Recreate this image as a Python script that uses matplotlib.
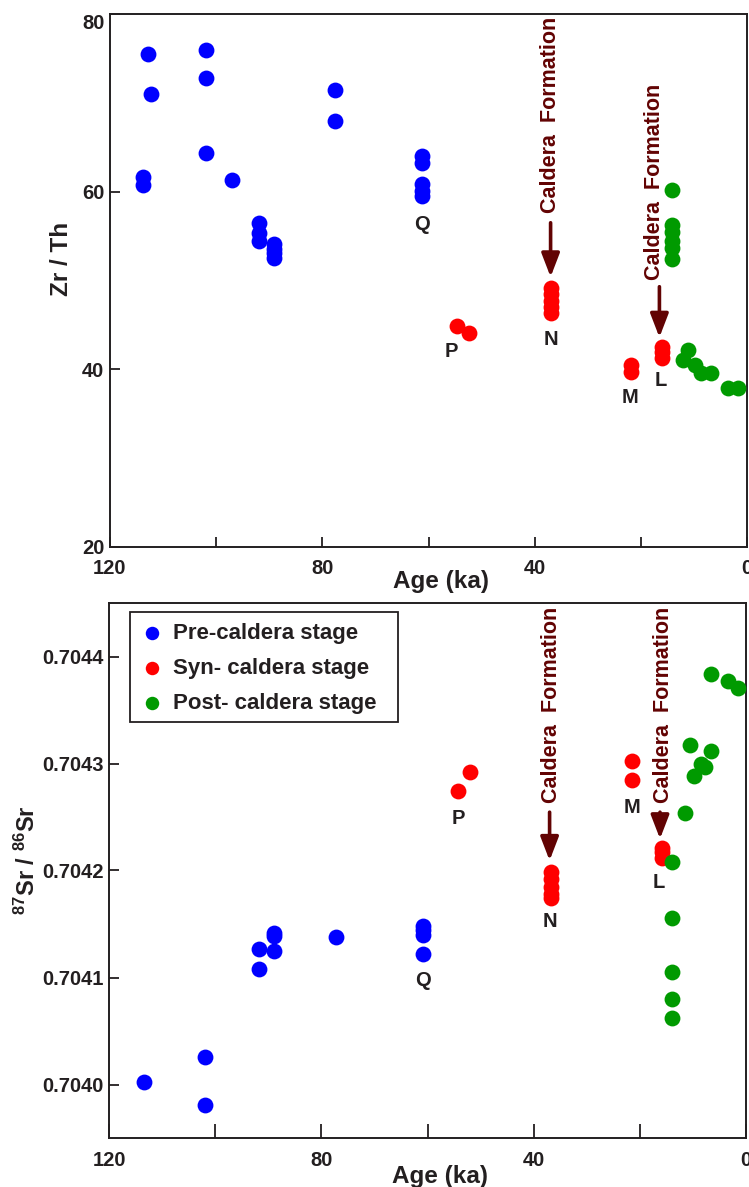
import matplotlib
matplotlib.use("Agg")
import matplotlib.pyplot as plt
from matplotlib.patches import Rectangle
from matplotlib.ticker import FixedLocator, FuncFormatter, FormatStrFormatter

plt.rcParams['font.family'] = ['Liberation Sans', 'DejaVu Sans']
plt.rcParams['font.weight'] = 'bold'
plt.rcParams['mathtext.fontset'] = 'custom'
plt.rcParams['mathtext.rm'] = 'Liberation Sans:bold'
plt.rcParams['mathtext.default'] = 'rm'

# ---- Zr/Th vs age ----
pre_age_zr = [112.9, 112.2, 113.7, 113.7, 102.0, 102.0, 102.0, 97.0, 91.9, 91.9, 91.9,
              89.1, 89.1, 89.1, 89.1, 77.6, 77.6, 61.2, 61.2, 61.2, 61.2, 61.2]
pre_zr = [75.5, 71.0, 61.7, 60.7, 75.9, 72.8, 64.4, 61.3, 56.5, 55.3, 54.5,
          54.1, 53.6, 53.1, 52.5, 71.4, 68.0, 64.0, 63.2, 60.9, 60.1, 59.5]

syn_age_zr = [54.6, 52.3, 37.0, 37.0, 37.0, 37.0, 37.0, 21.8, 21.8, 16.1, 16.1, 16.1]
syn_zr = [44.9, 44.1, 49.2, 48.5, 47.7, 47.0, 46.3, 40.5, 39.7, 42.5, 41.9, 41.3]

post_age_zr = [14.2, 14.2, 14.2, 14.2, 14.2, 14.2, 11.1, 12.0, 9.8, 8.6, 6.7, 3.6, 1.7]
post_zr = [60.2, 56.3, 55.5, 54.5, 53.7, 52.4, 42.2, 41.0, 40.5, 39.6, 39.6, 37.9, 37.9]

# ---- 87Sr/86Sr vs age ----
pre_age_sr = [113.5, 101.9, 101.9, 91.8, 91.8, 88.9, 88.9, 88.9, 77.3, 60.9, 60.9, 60.9, 60.9]
pre_sr = [0.704002, 0.704026, 0.703981, 0.704127, 0.704108, 0.704142, 0.704139, 0.704125,
          0.704138, 0.704148, 0.704144, 0.704140, 0.704122]

syn_age_sr = [54.3, 52.0, 36.8, 36.8, 36.8, 36.8, 36.8, 21.5, 21.5, 15.9, 15.9, 15.9]
syn_sr = [0.704274, 0.704292, 0.704199, 0.704192, 0.704185, 0.704178, 0.704174,
          0.704302, 0.704285, 0.704221, 0.704217, 0.704212]

post_age_sr = [6.5, 3.3, 1.5, 10.6, 6.5, 8.4, 7.8, 9.8, 11.4, 13.9, 13.9, 13.9, 13.9, 13.9]
post_sr = [0.704384, 0.704377, 0.704371, 0.704317, 0.704312, 0.704300, 0.704297, 0.704288,
           0.704254, 0.704208, 0.704156, 0.704105, 0.704080, 0.704062]

stage_labels = ["Pre-caldera stage", "Syn- caldera stage", "Post- caldera stage"]

# unit labels: (text, age, value)
units_zr = [("Q", 61.2, 56.3), ("P", 55.6, 42.0), ("N", 36.9, 43.4),
            ("M", 22.0, 36.8), ("L", 16.3, 38.7)]
units_sr = [("Q", 60.9, 0.704097), ("P", 54.1, 0.704249), ("N", 36.9, 0.704152),
            ("M", 21.5, 0.704259), ("L", 16.4, 0.704189)]

# caldera formation markers: (text age, text base, arrow age, arrow tail, arrow head)
caldera_zr = [(37.0, 57.6, 37.0, 56.5, 50.4), (17.4, 50.1, 16.5, 49.3, 43.6)]
caldera_sr = [(36.6, 0.704263, 37.0, 0.7042545, 0.7042093),
              (15.5, 0.704263, 16.2, 0.7042545, 0.7042296)]

BLUE, RED, GREEN = "#0000ff", "#ff0000", "#009a00"
DARKRED = "#620303"
INK = "#231f20"

fig = plt.figure(figsize=(7.49, 11.87), dpi=100)
ax1 = fig.add_axes([110 / 749, 1 - 547 / 1187, 637 / 749, 533 / 1187])
ax2 = fig.add_axes([109 / 749, 1 - 1138 / 1187, 637 / 749, 535 / 1187])

S = 130


def style_axes(ax, xlen):
    for sp in ax.spines.values():
        sp.set_color(INK)
        sp.set_linewidth(1.4)
    ax.tick_params(direction="in", width=1.3, color=INK,
                   labelsize=14.5, labelcolor=INK)
    ax.tick_params(axis="y", length=7, pad=4)
    ax.tick_params(axis="x", length=xlen, pad=9)
    ax.set_xlim(120, 0)
    ax.xaxis.set_major_locator(FixedLocator([120, 100, 80, 60, 40, 20, 0]))
    ax.xaxis.set_major_formatter(
        FuncFormatter(lambda v, p: f"{v:.0f}" if round(v) % 40 == 0 else ""))


def caldera(ax, tx, tb, axx, tail, head):
    ax.text(tx, tb, "Caldera  Formation", rotation=90, ha="center", va="bottom",
            color=DARKRED, fontsize=15.5, fontweight="bold")
    ax.annotate("", xy=(axx, head), xytext=(axx, tail),
                arrowprops=dict(arrowstyle="-|>,head_length=0.65,head_width=0.25",
                                color=DARKRED, lw=2.6, mutation_scale=22,
                                shrinkA=0, shrinkB=0))


# top panel
ax1.scatter(pre_age_zr, pre_zr, s=S, c=BLUE, linewidths=0, zorder=3)
ax1.scatter(syn_age_zr, syn_zr, s=S, c=RED, linewidths=0, zorder=3)
ax1.scatter(post_age_zr, post_zr, s=S, c=GREEN, linewidths=0, zorder=3)
style_axes(ax1, 7)
ax1.set_ylim(20, 80)
ax1.set_yticks([20, 40, 60, 80])
ax1.set_ylabel("Zr / Th", fontsize=17.5, fontweight="bold", color=INK)
ax1.yaxis.set_label_coords(-0.058, 0.54)
ax1.set_xlabel("Age (ka)", fontsize=17.5, fontweight="bold", color=INK)
ax1.xaxis.set_label_coords(0.52, -0.044)
for txt, a, v in units_zr:
    ax1.text(a, v, txt, ha="center", va="center", fontsize=14.5,
             fontweight="bold", color=INK)
for c in caldera_zr:
    caldera(ax1, *c)

# bottom panel
ax2.scatter(pre_age_sr, pre_sr, s=S, c=BLUE, linewidths=0, zorder=3, label=stage_labels[0])
ax2.scatter(syn_age_sr, syn_sr, s=S, c=RED, linewidths=0, zorder=3, label=stage_labels[1])
ax2.scatter(post_age_sr, post_sr, s=S, c=GREEN, linewidths=0, zorder=3, label=stage_labels[2])
style_axes(ax2, 10)
ax2.set_ylim(0.70395, 0.70445)
ax2.set_yticks([0.7040, 0.7041, 0.7042, 0.7043, 0.7044])
ax2.yaxis.set_major_formatter(FormatStrFormatter("%.4f"))
ax2.set_ylabel(r"$^{87}$Sr / $^{86}$Sr", fontsize=17, fontweight="bold", color=INK)
ax2.yaxis.set_label_coords(-0.109, 0.52)
ax2.set_xlabel("Age (ka)", fontsize=17.5, fontweight="bold", color=INK)
ax2.xaxis.set_label_coords(0.52, -0.051)
for txt, a, v in units_sr:
    ax2.text(a, v, txt, ha="center", va="center", fontsize=14.5,
             fontweight="bold", color=INK)
for c in caldera_sr:
    caldera(ax2, *c)

fig.canvas.draw()
for t in (ax1.get_xticklabels() + ax1.get_yticklabels()
          + ax2.get_xticklabels() + ax2.get_yticklabels()):
    t.set_fontweight("bold")
# keep the top "80" label inside the figure
ax1.get_yticklabels()[-1].set_va("top")

leg = ax2.legend(loc="upper left", bbox_to_anchor=(0.033, 0.983), borderaxespad=0,
                 frameon=False, prop={"weight": "bold", "size": 16},
                 handletextpad=0.45, labelspacing=0.62, borderpad=0.5,
                 handlelength=1.0, scatterpoints=1, markerscale=0.85)
for t in leg.get_texts():
    t.set_color(INK)
ax2.add_patch(Rectangle((0.033, 0.7776), 0.4207, 0.2056, transform=ax2.transAxes,
                        fill=False, edgecolor=INK, linewidth=1.3, zorder=4))

fig.savefig("out.png", dpi=100)
